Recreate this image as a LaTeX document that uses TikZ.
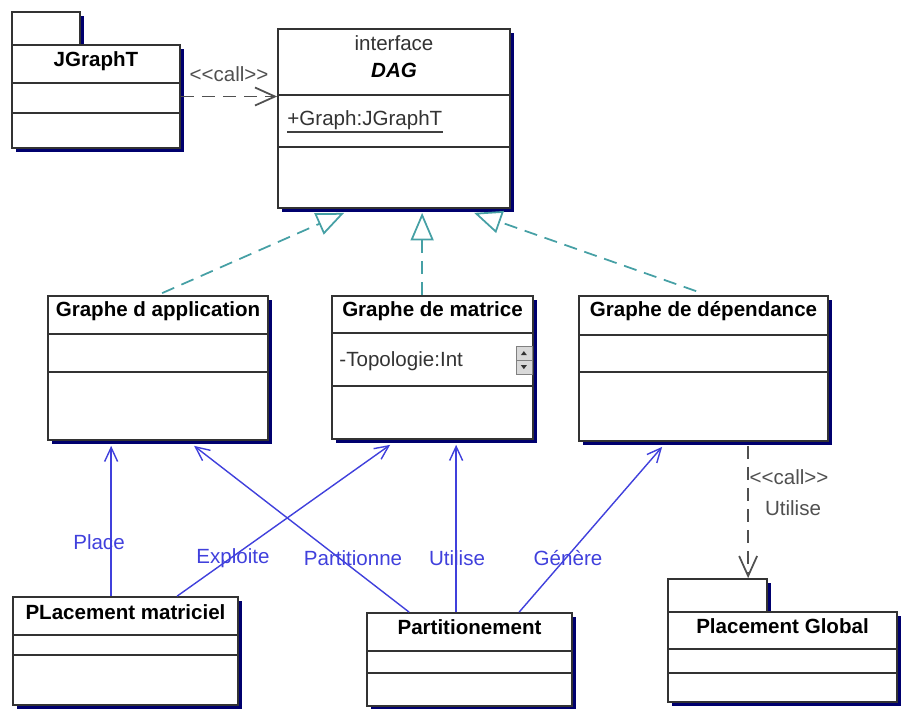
\documentclass[tikz,border=0pt]{standalone}
\usepackage{fontspec}
\setmainfont{Liberation Sans}[Scale=1.17]
\usetikzlibrary{arrows.meta,calc,fit,shadows}

\definecolor{shadownavy}{RGB}{0,0,110}
\definecolor{assocblue}{RGB}{64,64,220}
\definecolor{realteal}{RGB}{70,160,165}
\definecolor{callgray}{RGB}{80,80,80}

\tikzset{
  umlbox/.style={draw=black!80, line width=1pt, fill=white, inner sep=0pt,
    drop shadow={shadow xshift=0.08cm, shadow yshift=-0.08cm, fill=shadownavy, opacity=1}},
  cname/.style={font=\bfseries, inner sep=0pt},
  ctext/.style={text=black!80, inner sep=0pt},
  sepline/.style={black!80, line width=0.9pt},
  assoc/.style={assocblue, line width=0.8pt, -{Straight Barb[length=2.8mm,width=2.6mm]}},
  realize/.style={realteal, line width=1pt, dash pattern=on 7.5pt off 4.5pt,
    -{Triangle[open,length=5.5mm,width=4.6mm]}},
  calls/.style={callgray, line width=1pt, dash pattern=on 7.5pt off 4.5pt,
    -{Straight Barb[length=4mm,width=3.6mm]}},
  lbl/.style={text=assocblue, inner sep=0pt},
  stereo/.style={text=callgray, inner sep=0pt},
}

\begin{document}
\begin{tikzpicture}[x=0.02cm, y=-0.02cm]
    \useasboundingbox (0,0) rectangle (902,708);

    % packages (tab first, body on top)
    \node[umlbox, fit={(12,12) (80,45)}] (jgtab) {};
    \node[umlbox, fit={(12,45) (180,148)}] (jg) {};
    \node[umlbox, fit={(668,579) (767,612)}] (pgtab) {};
    \node[umlbox, fit={(668,612) (897,702)}] (pg) {};

    % classes
    \node[umlbox, fit={(278,29) (510,208)}] (dag) {};
    \node[umlbox, fit={(48,296) (268,440)}] (gapp) {};
    \node[umlbox, fit={(332,296) (533,439)}] (gmat) {};
    \node[umlbox, fit={(579,296) (828,441)}] (gdep) {};
    \node[umlbox, fit={(13,597) (238,705)}] (pm) {};
    \node[umlbox, fit={(367,613) (572,706)}] (part) {};

    % compartments
    \foreach \b/\y in {jg/83, jg/113, pg/649, pg/673, dag/95, dag/147,
                       gapp/334, gapp/372, gmat/333, gmat/386, gdep/335, gdep/372,
                       pm/635, pm/655, part/651, part/673}
        \draw[sepline] (\b.west |- 0,\y) -- (\b.east |- 0,\y);

    % names
    \node[cname] (jg-name) at ($(jg.north)+(0,17)$) {JGraphT};
    \node[cname] (pg-name) at ($(pg.north)+(0,15)$) {Placement Global};
    \node[ctext] (dag-kind) at ($(dag.north)+(0,15)$) {interface};
    \node[cname, font=\bfseries\itshape] (dag-name) at ($(dag.north)+(0,42)$) {DAG};
    \node[cname] (gapp-name) at ($(gapp.north)+(0,16)$) {Graphe d application};
    \node[cname] (gmat-name) at ($(gmat.north)+(0,16)$) {Graphe de matrice};
    \node[cname] (gdep-name) at ($(gdep.north)+(0,16)$) {Graphe de dépendance};
    \node[cname] (pm-name) at ($(pm.north)+(0,16)$) {PLacement matriciel};
    \node[cname] (part-name) at ($(part.north)+(0,15)$) {Partitionement};

    % attributes
    \node[ctext, anchor=west] (dag-attr) at ($(dag.north west)+(10,92)$) {+Graph:JGraphT};
    \draw[black!75, line width=1.2pt] ($(dag-attr.south west)+(0,2)$) -- ($(dag-attr.south east)+(0,2)$);
    \node[ctext, anchor=west] (gmat-attr) at ($(gmat.north west)+(8,66)$) {-Topologie:Int};

    % little scroll buttons
    \draw[black!50, fill=black!15] ($(gmat.north east)+(-18,51)$) rectangle ($(gmat.north east)+(-2,79)$);
    \draw[black!50] ($(gmat.north east)+(-18,65)$) -- ($(gmat.north east)+(-2,65)$);
    \fill[black!80] ($(gmat.north east)+(-13,60)$) -- ($(gmat.north east)+(-7,60)$) -- ($(gmat.north east)+(-10,56)$) -- cycle;
    \fill[black!80] ($(gmat.north east)+(-13,70)$) -- ($(gmat.north east)+(-7,70)$) -- ($(gmat.north east)+(-10,74)$) -- cycle;

    % dependencies
    \draw[calls] (jg.east) -- (jg.east -| dag.west)
        node[stereo, midway, above=0.28cm] (jg-call) {<\kern0pt<call>\kern0pt>};
    \draw[calls] ($(gdep.south west)+(170,4)$) -- ($(pgtab.north west)+(81,0)$);
    \node[stereo] (pg-call) at (789,477) {<\kern0pt<call>\kern0pt>};
    \node[stereo] (pg-use) at (793,508) {Utilise};

    % realizations of the interface
    \draw[realize] ($(gapp.north west)+(115,-2)$) -- ($(dag.south west)+(67,4)$);
    \draw[realize] ($(gmat.north west)+(91,0)$) -- ($(dag.south west)+(145,4)$);
    \draw[realize] ($(gdep.north west)+(118,-4)$) -- ($(dag.south west)+(197,4)$);

    % associations
    \draw[assoc] ($(pm.north west)+(99,0)$) -- ($(gapp.south west)+(64,5)$);
    \draw[assoc] ($(pm.north west)+(165,0)$) -- ($(gmat.south west)+(59,5)$);
    \draw[assoc] ($(part.north west)+(43,0)$) -- ($(gapp.south west)+(147,5)$);
    \draw[assoc] ($(part.north west)+(90,0)$) -- ($(gmat.south west)+(125,5)$);
    \draw[assoc] ($(part.north west)+(153,0)$) -- ($(gdep.south west)+(84,5)$);
    \node[lbl] (l-place) at (99,542) {Place};
    \node[lbl] (l-expl) at (233,558) {Exploite};
    \node[lbl] (l-part) at (353,558) {Partitionne};
    \node[lbl] (l-use) at (457,558) {Utilise};
    \node[lbl] (l-gen) at (568,558) {Génère};
\end{tikzpicture}
\end{document}
